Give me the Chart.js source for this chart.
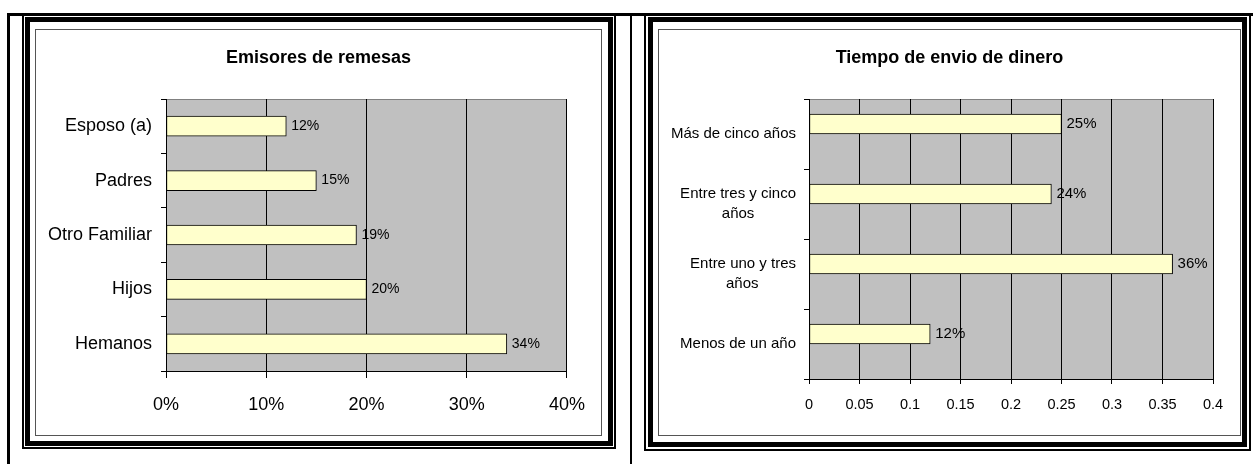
<!DOCTYPE html>
<html lang="es">
<head>
<meta charset="utf-8">
<title>Remesas</title>
<script src="https://cdn.jsdelivr.net/npm/chart.js@4.4.1/dist/chart.umd.min.js"></script>
<style>
  body { margin: 0; background: #fff; width: 1253px; height: 464px; overflow: hidden; position: relative; }
  .linea { position: absolute; background: #000; }
  .marco { position: absolute; box-sizing: border-box; border-style: solid; border-color: #000; }
  .fino { border-width: 2px; }
  .grueso { border-width: 5px; }
  .caja { position: absolute; box-sizing: border-box; border: 1px solid #555; background: #fff; }
  canvas { position: absolute; }
</style>
</head>
<body>
  <!-- lineas de la tabla -->
  <div class="linea" style="left:7px; top:13px; width:3px; height:451px"></div>
  <div class="linea" style="left:7px; top:13px; width:1246px; height:3px"></div>
  <div class="linea" style="left:630px; top:13px; width:2px; height:451px"></div>

  <!-- celda izquierda -->
  <div class="marco fino" style="left:22px; top:13px; width:594px; height:436px"></div>
  <div class="marco grueso" style="left:25px; top:17px; width:588px; height:429px"></div>
  <div class="caja" style="left:35px; top:29px; width:567px; height:407px"></div>
  <canvas id="graficaEmisores" width="565" height="405" style="left:36px; top:30px"></canvas>

  <!-- celda derecha -->
  <div class="marco fino" style="left:644px; top:13px; width:607px; height:438px"></div>
  <div class="marco grueso" style="left:648px; top:17px; width:599px; height:430px"></div>
  <div class="caja" style="left:658px; top:29px; width:583px; height:407px"></div>
  <canvas id="graficaTiempo" width="581" height="405" style="left:659px; top:30px"></canvas>

<script>
const categoriasEmisores = ["Esposo (a)", "Padres", "Otro Familiar", "Hijos", "Hemanos"];
const valoresEmisores = [0.12, 0.15, 0.19, 0.20, 0.34];
const ticksEmisores = ["0%", "10%", "20%", "30%", "40%"];

const categoriasTiempo = ["Más de cinco años", "Entre tres y cinco\naños", "Entre uno y tres\naños", "Menos de un año"];
const valoresTiempo = [0.25, 0.24, 0.36, 0.12];
const valoresTiempoVacios = [null, null, null, null]; // segunda serie sin datos, desplaza las barras hacia arriba
const ticksTiempo = ["0", "0.05", "0.1", "0.15", "0.2", "0.25", "0.3", "0.35", "0.4"];

const FUENTE = '"Liberation Sans", Arial, sans-serif';
Chart.defaults.font.family = FUENTE;
Chart.defaults.color = "#000";

// fondo gris del area de trazado y linea superior
const fondoGrafica = {
  id: "fondoGrafica",
  afterLayout(chart) {
    // el titulo se centra sobre todo el lienzo, no solo hasta el padding derecho
    if (chart.titleBlock) {
      chart.titleBlock.left = 0;
      chart.titleBlock.right = chart.width;
    }
  },
  beforeDraw(chart) {
    const { ctx, chartArea: a } = chart;
    ctx.save();
    ctx.fillStyle = "#C0C0C0";
    ctx.fillRect(a.left, a.top, a.right - a.left, a.bottom - a.top);
    ctx.strokeStyle = "#808080";
    ctx.lineWidth = 1;
    ctx.beginPath();
    ctx.moveTo(a.left, a.top + 0.5);
    ctx.lineTo(a.right, a.top + 0.5);
    ctx.stroke();
    ctx.restore();
  }
};

// porcentaje al final de cada barra
const etiquetasBarras = {
  id: "etiquetasBarras",
  afterDatasetsDraw(chart, args, opts) {
    const ctx = chart.ctx;
    const valores = chart.data.datasets[0].data;
    ctx.save();
    ctx.font = opts.size + "px " + FUENTE;
    ctx.fillStyle = "#000";
    ctx.textBaseline = "middle";
    chart.getDatasetMeta(0).data.forEach((barra, i) => {
      ctx.fillText(Math.round(valores[i] * 100) + "%", barra.x + 5, barra.y);
    });
    ctx.restore();
  }
};

// centra las lineas cortas bajo la mas larga rellenando con espacios (etiquetas alineadas a la derecha)
function centrarLineas(texto, size) {
  const lineas = texto.split("\n");
  if (lineas.length === 1) return texto;
  const ctx = document.createElement("canvas").getContext("2d");
  ctx.font = size + "px " + FUENTE;
  const ancho = Math.max(...lineas.map(l => ctx.measureText(l).width));
  const espacio = ctx.measureText(" ").width;
  return lineas.map(l => l + " ".repeat(Math.round((ancho - ctx.measureText(l).width) / 2 / espacio)));
}

function graficaBarras(canvas, c) {
  const datasets = c.series.map(serie => ({
    data: serie,
    backgroundColor: "#FFFFCC",
    borderColor: "#000",
    borderWidth: 1,
    borderSkipped: false,
    barThickness: 20
  }));

  return new Chart(canvas, {
    type: "bar",
    data: { labels: c.categorias.map(t => centrarLineas(t, c.letraEje)), datasets: datasets },
    plugins: [fondoGrafica, etiquetasBarras],
    options: {
      indexAxis: "y",
      responsive: false,
      animation: false,
      devicePixelRatio: 1,
      events: [],
      layout: { padding: { top: 0, left: 0, bottom: 0, right: c.margenDerecho } },
      plugins: {
        legend: { display: false },
        tooltip: { enabled: false },
        title: {
          display: true,
          text: c.titulo,
          color: "#000",
          font: { size: 18, weight: "bold", lineHeight: 1.2 },
          padding: { top: 17, bottom: 30.4 }
        },
        etiquetasBarras: { size: c.letraValor }
      },
      scales: {
        x: {
          min: 0,
          max: 0.4,
          grid: { color: "#000", tickLength: c.marcaX },
          border: { color: "#000" },
          ticks: {
            stepSize: c.paso,
            autoSkip: false,
            maxRotation: 0,
            padding: c.separacionX,
            font: { size: c.letraTicks },
            callback: (v, i) => c.ticks[i]
          },
          afterFit(scale) { scale.height = c.altoEjeX; }
        },
        y: {
          grid: { drawOnChartArea: false, color: "#000", tickLength: 5, offset: true },
          border: { color: "#000" },
          ticks: { padding: c.separacionY, font: { size: c.letraEje, lineHeight: 1.33 } },
          afterFit(scale) { scale.width = c.anchoEjeY; }
        }
      }
    }
  });
}

graficaBarras(document.getElementById("graficaEmisores"), {
  titulo: "Emisores de remesas",
  categorias: categoriasEmisores,
  series: [valoresEmisores],
  ticks: ticksEmisores,
  paso: 0.1,
  letraEje: 18,
  letraTicks: 18,
  letraValor: 14,
  marcaX: 7,
  separacionX: 16,
  separacionY: 9,
  anchoEjeY: 130,
  altoEjeX: 64,
  margenDerecho: 31
});

graficaBarras(document.getElementById("graficaTiempo"), {
  titulo: "Tiempo de envio de dinero",
  categorias: categoriasTiempo,
  series: [valoresTiempo, valoresTiempoVacios],
  ticks: ticksTiempo,
  paso: 0.05,
  letraEje: 15,
  letraTicks: 14.5,
  letraValor: 15,
  marcaX: 5,
  separacionX: 12,
  separacionY: 8,
  anchoEjeY: 150,
  altoEjeX: 56,
  margenDerecho: 27
});
</script>
</body>
</html>
